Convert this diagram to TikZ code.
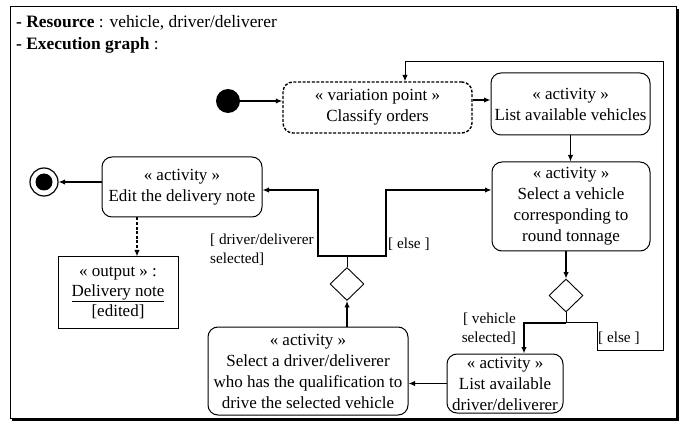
\documentclass[tikz,border=0pt]{standalone}
\usepackage{fontspec}
\setmainfont{Liberation Serif}
\usetikzlibrary{arrows.meta,shapes.geometric}
\begin{document}
\begin{tikzpicture}[x=1pt,y=-1pt,
  act/.style={draw,rounded corners=10pt,line width=1pt,align=center,inner sep=0pt,
    font=\fontsize{17}{21}\selectfont},
  varbox/.style={act,line width=1.4pt,dash pattern=on 3pt off 1.6pt},
  outbox/.style={draw,line width=1pt,align=center,inner sep=0pt,
    font=\fontsize{17}{20}\selectfont},
  decision/.style={draw,diamond,line width=0.9pt,minimum width=34pt,minimum height=33pt,inner sep=0pt},
  guard/.style={inner sep=0pt,align=left,font=\fontsize{15.2}{19}\selectfont},
  flow/.style={line width=1.5pt,-{Latex[length=6.5pt,width=5.5pt]}},
  thinflow/.style={line width=1pt,-{Latex[length=6.5pt,width=5.5pt]}},
  wire/.style={line width=1pt},
  header/.style={anchor=west,inner sep=0pt,font=\fontsize{17.4}{20}\selectfont}]
\useasboundingbox (0,0) rectangle (688,430);

% frame with a drop shadow
\draw[line width=1pt] (10,7) rectangle (676,418);
\draw[line width=2.4pt] (677.4,9) -- (677.4,419.4) -- (12,419.4);

% header
\node[header] (res) at (16,23) {\textbf{- Resource} : vehicle, driver/deliverer};
\node[header] (exe) at (16,45) {\textbf{- Execution graph} :};

% start / end
\node[circle,fill=black,minimum size=24pt,inner sep=0pt] (start) at (228,101) {};
\node[circle,draw,line width=1.2pt,minimum size=28pt,inner sep=0pt] (end) at (44,182) {};
\fill (end.center) circle (8.5);

% activities
\node[varbox,minimum width=189pt,minimum height=51pt] (var) at (377.5,107.5)
  {« variation point »\\Classify orders};
\node[act,minimum width=159pt,minimum height=62pt] (listv) at (570.5,104)
  {« activity »\\List available vehicles};
\node[act,minimum width=158pt,minimum height=89pt] (selv) at (571,206.5)
  {« activity »\\Select a vehicle\\corresponding to\\round tonnage};
\node[act,minimum width=116pt,minimum height=59pt] (listd) at (505,383.5)
  {« activity »\\List available\\driver/deliverer};
\node[act,minimum width=200pt,minimum height=88pt] (seld) at (308,371)
  {« activity »\\Select a driver/deliverer\\who has the qualification to\\drive the selected vehicle};
\node[act,minimum width=160pt,minimum height=60pt] (edit) at (182,187)
  {« activity »\\Edit the delivery note};
\node[outbox,minimum width=120pt,minimum height=71pt] (out) at (118,292.5)
  {« output » :\\\underline{Delivery note}\\{[edited]}};

% decisions
\node[decision] (d1) at (347,284) {};
\node[decision] (d2) at (566,295.5) {};

% guards
\node[guard,anchor=north west] (g1) at (210,234) {[ driver/deliverer\\{selected]}};
\node[guard,anchor=west] (g2) at (388,244) {[ else ]};
\node[guard,anchor=north east,align=right] (g3) at (516,313) {[ vehicle\\{selected]}};
\node[guard,anchor=west] (g4) at (598,338) {[ else ]};

% main flow
\draw[flow] (start) -- (start -| var.west);
\coordinate (v1) at ([yshift=7.5pt]var.east);
\draw[flow] (v1) -- (v1 -| listv.west);
\draw[flow] (listv.south) -- (listv.south |- selv.north);
\draw[flow] (d2.north |- selv.south) -- (d2.north);

% vehicle decision
\coordinate (j2) at (566,323);
\draw[wire] (d2.south) -- (j2);
\draw[flow] (j2) -| ([xshift=19pt]listd.north);
\coordinate (loopA) at (597,350);
\coordinate (loopB) at (663,62);
\draw[thinflow] (j2) -| (loopA) -| (loopB) -| ([xshift=27.5pt]var.north);

\draw[flow] (listd.west) -- (listd.west -| seld.east);
\draw[flow] (d1.south |- seld.north) -- (d1.south);

% driver decision
\coordinate (j1) at (347,256);
\coordinate (k1) at (318,190);
\coordinate (k2) at (386,190);
\draw[wire] (d1.north) -- (j1);
\draw[flow] (j1) -| (k1) -- (k1 -| edit.east);
\draw[flow] (j1) -| (k2) -- (k2 -| selv.west);

% end and output
\draw[flow] (edit.west |- end) -- (end.east);
\coordinate (o1) at ([xshift=19pt]out.north);
\draw[flow,dash pattern=on 3pt off 1.6pt] (o1 |- edit.south) -- (o1);
\end{tikzpicture}
\end{document}
